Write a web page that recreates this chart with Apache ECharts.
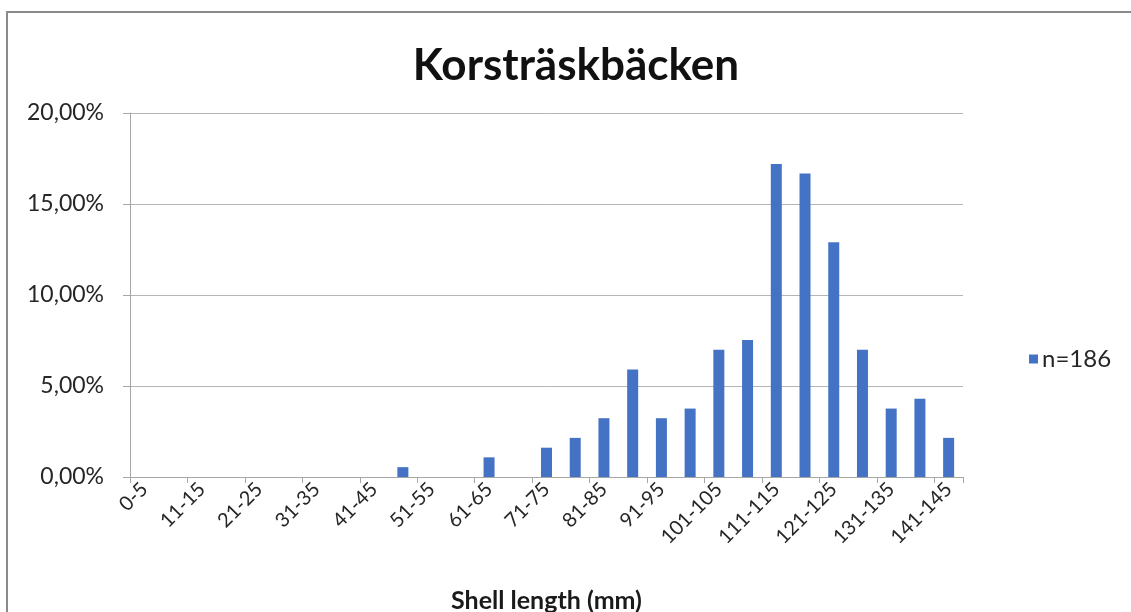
<!DOCTYPE html>
<html>
<head>
<meta charset="utf-8">
<script src="https://cdn.jsdelivr.net/npm/echarts@6/dist/echarts.min.js"></script>
<style>
  html, body { margin: 0; padding: 0; background: #ffffff; }
  #chart { width: 1131px; height: 612px; }
</style>
</head>
<body>
<div id="chart"></div>
<script>
// Shell length classes (mm)
const categories = [
  '0-5', '6-10', '11-15', '16-20', '21-25', '26-30', '31-35', '36-40',
  '41-45', '46-50', '51-55', '56-60', '61-65', '66-70', '71-75', '76-80',
  '81-85', '86-90', '91-95', '96-100', '101-105', '106-110', '111-115',
  '116-120', '121-125', '126-130', '131-135', '136-140', '141-145'
];

// Share of mussels per class, percent (n = 186)
const shares = [
  0, 0, 0, 0, 0, 0, 0, 0,
  0, 0.54, 0, 0, 1.08, 0, 1.61, 2.15,
  3.23, 5.91, 3.23, 3.76, 6.99, 7.53, 17.20,
  16.67, 12.90, 6.99, 3.76, 4.30, 2.15
];

const seriesName = 'n=186';
const chartTitle = 'Korsträskbäcken';
const xAxisTitle = 'Shell length (mm)';
const yTicks = [0, 5, 10, 15, 20];

const FONT = 'Lato, "Open Sans", sans-serif';
const chart = echarts.init(document.getElementById('chart'));

chart.setOption({
  backgroundColor: '#ffffff',
  animation: false,
  textStyle: { fontFamily: FONT },
  graphic: [{
    type: 'rect',
    shape: { x: 7, y: 12, width: 1140, height: 620 },
    style: { fill: 'none', stroke: '#8a8a8a', lineWidth: 2 },
    silent: true
  }],
  title: {
    text: chartTitle,
    left: 571,
    top: 39,
    textAlign: 'center',
    textStyle: { fontFamily: FONT, fontSize: 44, fontWeight: 'bold', color: '#111111' }
  },
  legend: {
    left: 1024,
    top: 342,
    itemWidth: 9,
    itemHeight: 9,
    icon: 'rect',
    itemGap: 4,
    textStyle: { fontFamily: FONT, fontSize: 24, color: '#262626', padding: [0, 0, 0, -1] },
    data: [seriesName]
  },
  grid: {
    left: 130, right: 168, top: 113, bottom: 135,
    containLabel: false,
    outerBoundsMode: 'none'
  },
  xAxis: {
    type: 'category',
    data: categories,
    name: xAxisTitle,
    nameLocation: 'middle',
    nameGap: 111,
    nameTextStyle: { fontFamily: FONT, fontSize: 25, fontWeight: 'bold', color: '#1a1a1a' },
    axisLine: { lineStyle: { color: '#a6a6a6', width: 1 } },
    axisTick: { show: true, length: 6, lineStyle: { color: '#a6a6a6' } },
    axisLabel: {
      interval: 1,
      rotate: 45,
      fontFamily: FONT,
      fontSize: 20,
      color: '#262626',
      margin: 9
    }
  },
  yAxis: {
    type: 'value',
    min: yTicks[0],
    max: yTicks[yTicks.length - 1],
    interval: yTicks[1] - yTicks[0],
    axisLine: { show: true, lineStyle: { color: '#a6a6a6', width: 1 } },
    axisTick: { show: true, length: 7, lineStyle: { color: '#a6a6a6' } },
    splitLine: { lineStyle: { color: '#b5b5b5', width: 1 } },
    axisLabel: {
      fontFamily: FONT,
      fontSize: 23,
      color: '#262626',
      margin: 26,
      formatter: v => v.toFixed(2).replace('.', ',') + '%'
    }
  },
  series: [{
    name: seriesName,
    type: 'bar',
    data: shares,
    barWidth: 11,
    itemStyle: { color: '#4472c4' }
  }]
});
</script>
</body>
</html>
